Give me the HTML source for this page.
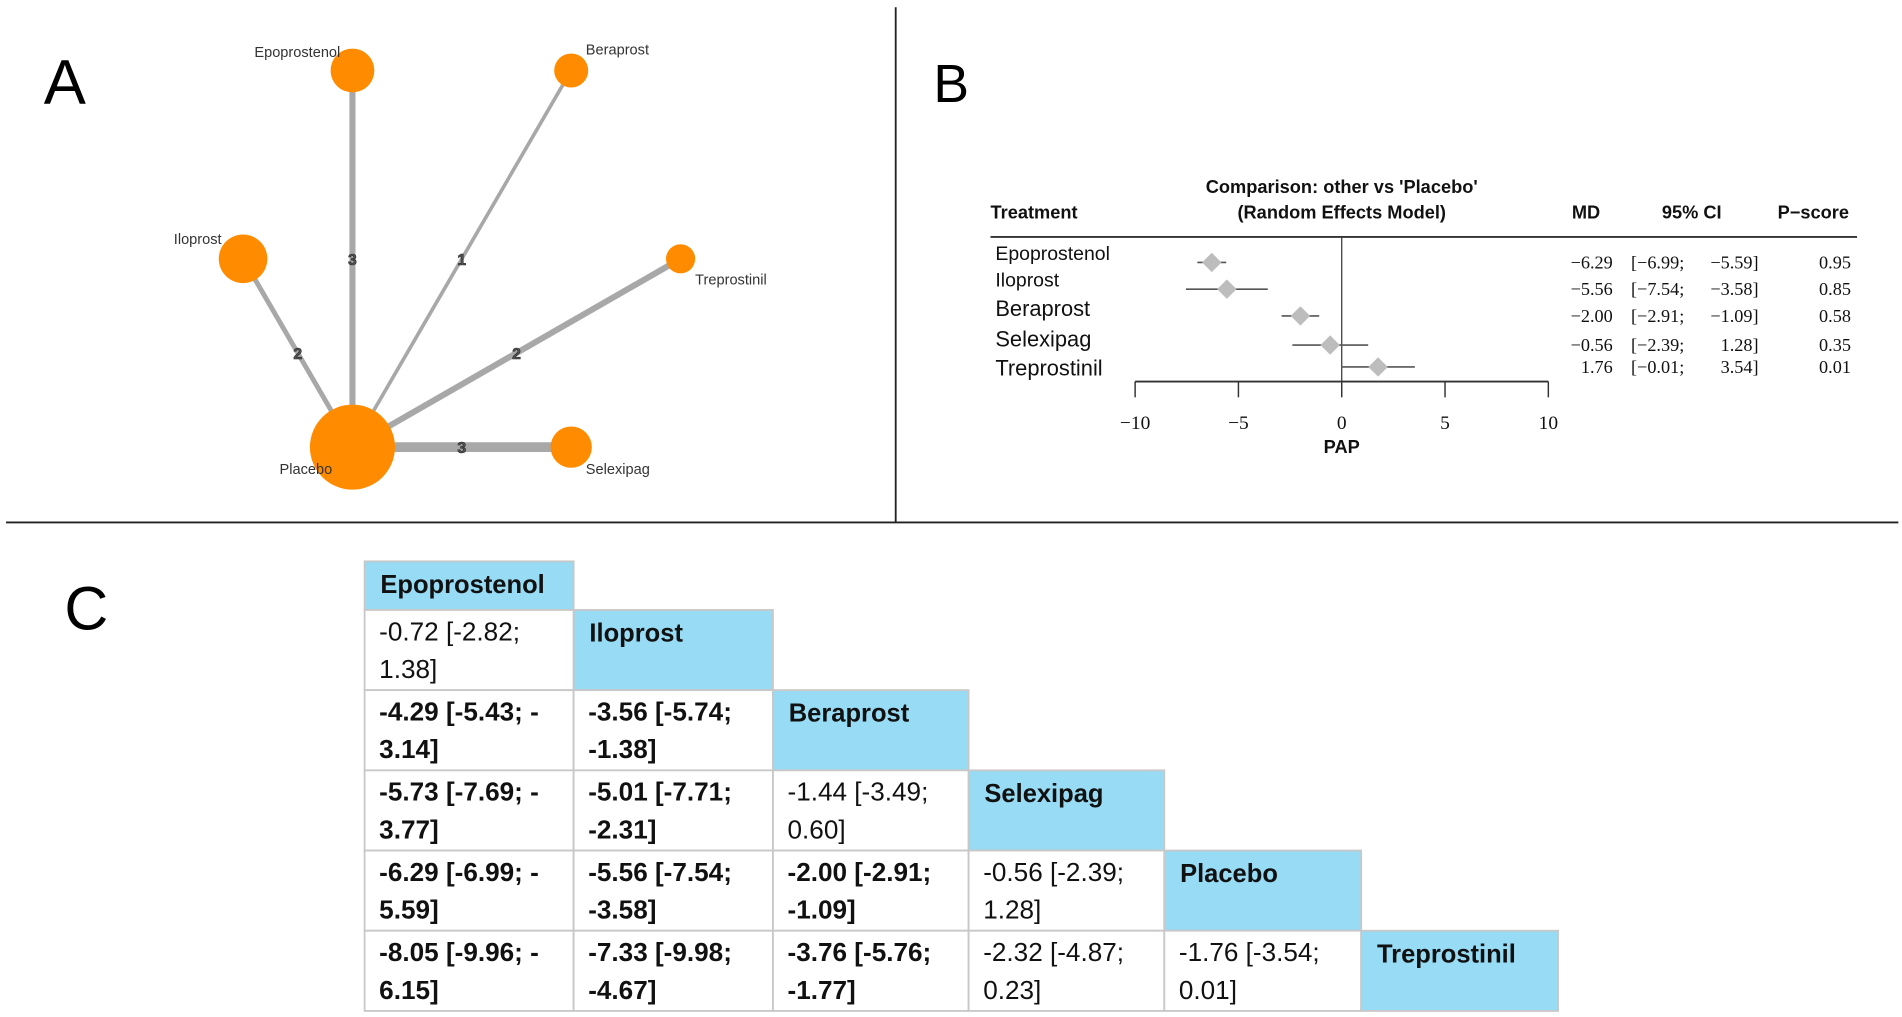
<!DOCTYPE html>
<html><head><meta charset="utf-8"><style>
html,body{margin:0;padding:0;background:#fff;overflow:hidden}
svg{display:block}
</style></head><body>
<svg id="fig" width="1902" height="1017" viewBox="0 0 1565 837" preserveAspectRatio="none" xmlns="http://www.w3.org/2000/svg">
<rect width="1565" height="837" fill="#fff"/>
<line x1="737" y1="6" x2="737" y2="430" stroke="#222" stroke-width="1.5"/>
<line x1="5" y1="430" x2="1562" y2="430" stroke="#222" stroke-width="1.5"/>
<text x="36" y="85" font-family="Liberation Sans, sans-serif" font-size="52">A</text>
<text x="768" y="84" font-family="Liberation Sans, sans-serif" font-size="44">B</text>
<text x="53" y="518" font-family="Liberation Sans, sans-serif" font-size="50">C</text>
<g id="net"></g>
<g id="forest"></g>
<g id="league"></g>
</svg>
<script>
const NS='http://www.w3.org/2000/svg';
function mk(parent,tag,attrs,txt){const e=document.createElementNS(NS,tag);for(const k in attrs)e.setAttribute(k,attrs[k]);if(txt!==undefined)e.textContent=txt;parent.appendChild(e);return e;}

// ---- Network data ----
const netNodes=['Placebo','Epoprostenol','Beraprost','Iloprost','Treprostinil','Selexipag'];
const netNodeX=[290,290,470,200,560,470];
const netNodeY=[368,58,58,213,213,368];
const netNodeR=[35,18,14,20,12,17];
const netEdgeTo=[1,2,3,4,5];
const netEdgeStudies=[3,1,2,2,3];
const netEdgeWidth=[5,3,4,5,8];
const netLabelX=[230,280,482,143,572,482];
const netLabelY=[390,47,45,201,234,390];
const netLabelAnchor=['start','end','start','start','start','start'];

const net=document.getElementById('net');
netEdgeTo.forEach((t,i)=>{
  const l=mk(net,'line',{x1:netNodeX[0],y1:netNodeY[0],x2:netNodeX[t],y2:netNodeY[t],stroke:'#a8a8a8','stroke-width':netEdgeWidth[i]});
  
  
});
netNodes.forEach((n,i)=>{
  const c=mk(net,'circle',{cx:netNodeX[i],cy:netNodeY[i],r:netNodeR[i],fill:'#ff8c00'});
  
  
});
netEdgeTo.forEach((t,i)=>{
  const mx=(netNodeX[0]+netNodeX[t])/2, my=(netNodeY[0]+netNodeY[t])/2;
  const tx=mk(net,'text',{x:mx,y:my+5,'text-anchor':'middle','font-family':'Liberation Sans, sans-serif','font-size':13,'font-weight':'bold',fill:'#555',stroke:'#222','stroke-width':0.5},String(netEdgeStudies[i]));
  
  
});
netNodes.forEach((n,i)=>{
  const tx=mk(net,'text',{x:netLabelX[i],y:netLabelY[i],'text-anchor':netLabelAnchor[i],'font-family':'Liberation Sans, sans-serif','font-size':12,fill:'#333'},n);
  
  
});

// ---- Forest data ----
const forestTreatments=['Epoprostenol','Iloprost','Beraprost','Selexipag','Treprostinil'];
const forestMD=[-6.29,-5.56,-2.00,-0.56,1.76];
const forestLo=[-6.99,-7.54,-2.91,-2.39,-0.01];
const forestHi=[-5.59,-3.58,-1.09,1.28,3.54];
const forestPscore=['0.95','0.85','0.58','0.35','0.01'];
const forestTicks=[-10,-5,0,5,10];
const forestLabelY=[214,236,260,285,309];
const forestLabelSize=[16,16,18,18,18];
const forestRowY=[216,238,260,284,302];

const fx=v=>1104+v*17;
const fg=document.getElementById('forest');
const F='Liberation Sans, sans-serif', S='Liberation Serif, serif';
function t(p,name,x,y,s,str,o){const e=mk(p,'text',Object.assign({x:x,y:y,'font-family':F,'font-size':s,fill:'#111'},o||{}),str);return e;}
t(fg,'column-header-treatment',815,180,15,'Treatment',{'font-weight':'bold'});
t(fg,'forest-title-line1',1104,159,15,"Comparison: other vs 'Placebo'",{'font-weight':'bold','text-anchor':'middle'});
t(fg,'forest-title-line2',1104,180,15,'(Random Effects Model)',{'font-weight':'bold','text-anchor':'middle'});
t(fg,'column-header-md',1305,180,15,'MD',{'font-weight':'bold','text-anchor':'middle'});
t(fg,'column-header-ci',1392,180,15,'95% CI',{'font-weight':'bold','text-anchor':'middle'});
t(fg,'column-header-pscore',1492,180,15,'P\u2212score',{'font-weight':'bold','text-anchor':'middle'});
const hl=mk(fg,'line',{x1:815,y1:195,x2:1528,y2:195,stroke:'#333','stroke-width':1.5});

const zl=mk(fg,'line',{x1:fx(0),y1:195,x2:fx(0),y2:314,stroke:'#333','stroke-width':1});

const ax=mk(fg,'line',{x1:fx(forestTicks[0]),y1:314,x2:fx(forestTicks[forestTicks.length-1]),y2:314,stroke:'#333','stroke-width':1.5});

forestTicks.forEach(v=>{
  const tk=mk(fg,'line',{x1:fx(v),y1:314,x2:fx(v),y2:327,stroke:'#333','stroke-width':1.2});
  
  t(fg,'x-tick-label',fx(v),353,16,(v<0?'\u2212':'')+Math.abs(v),{'font-family':S,'text-anchor':'middle'});
});
t(fg,'x-axis-title',1104,373,15,'PAP',{'font-weight':'bold','text-anchor':'middle'});
const fmt=v=>(v<0?'\u2212':'')+Math.abs(v).toFixed(2);
forestTreatments.forEach((n,i)=>{
  t(fg,'row-label-'+n.toLowerCase(),819,forestLabelY[i],forestLabelSize[i],n);
  const y=forestRowY[i];
  const ci=mk(fg,'line',{x1:fx(forestLo[i]),y1:y,x2:fx(forestHi[i]),y2:y,stroke:'#555','stroke-width':1.3});
  
  const cx=fx(forestMD[i]),d=8;
  const dm=mk(fg,'polygon',{points:`${cx-d},${y} ${cx},${y-d} ${cx+d},${y} ${cx},${y+d}`,fill:'#bdbdbd'});
  
  const ty=y+5;
  t(fg,'md-value',1327,ty,15,fmt(forestMD[i]),{'font-family':S,'text-anchor':'end'});
  t(fg,'ci-value',1342,ty,15,'['+fmt(forestLo[i])+';',{'font-family':S});
  t(fg,'ci-value',1447,ty,15,fmt(forestHi[i])+']',{'font-family':S,'text-anchor':'end'});
  t(fg,'pscore-value',1523,ty,15,forestPscore[i],{'font-family':S,'text-anchor':'end'});
});

// ---- League table ----
const leagueNames=['Epoprostenol','Iloprost','Beraprost','Selexipag','Placebo','Treprostinil'];
const leagueCells=[
 [],
 [['-0.72 [-2.82;','1.38]',0]],
 [['-4.29 [-5.43; -','3.14]',1],['-3.56 [-5.74;','-1.38]',1]],
 [['-5.73 [-7.69; -','3.77]',1],['-5.01 [-7.71;','-2.31]',1],['-1.44 [-3.49;','0.60]',0]],
 [['-6.29 [-6.99; -','5.59]',1],['-5.56 [-7.54;','-3.58]',1],['-2.00 [-2.91;','-1.09]',1],['-0.56 [-2.39;','1.28]',0]],
 [['-8.05 [-9.96; -','6.15]',1],['-7.33 [-9.98;','-4.67]',1],['-3.76 [-5.76;','-1.77]',1],['-2.32 [-4.87;','0.23]',0],['-1.76 [-3.54;','0.01]',0]]
];
const colX=[300,472,636,797,958,1120,1282];
const rowY=[462,502,568,634,700,766,832];
const lg=document.getElementById('league');
const LF='Liberation Sans, sans-serif';
leagueNames.forEach((n,r)=>{
  for(let c=0;c<=r;c++){
    const x=colX[c],y=rowY[r],w=colX[c+1]-x,h=rowY[r+1]-y;
    const diag=c===r;
    const rc=mk(lg,'rect',{x:x,y:y,width:w,height:h,fill:diag?'#97dbf5':'#fff',stroke:'#c8c8c8','stroke-width':1.5});
    
    
    if(diag){
      const e=mk(lg,'text',{x:x+13,y:y+26,'font-family':LF,'font-size':21,'font-weight':'bold',fill:'#111'},n);
      
    }else{
      const cell=leagueCells[r][c];
      const o={'font-family':LF,'font-size':21.5,fill:'#111'};
      if(cell[2])o['font-weight']='bold';
      const e1=mk(lg,'text',Object.assign({x:x+12,y:y+25},o),cell[0]);
      
      const e2=mk(lg,'text',Object.assign({x:x+12,y:y+56},o),cell[1]);
      
    }
  }
});
</script>
</body></html>
